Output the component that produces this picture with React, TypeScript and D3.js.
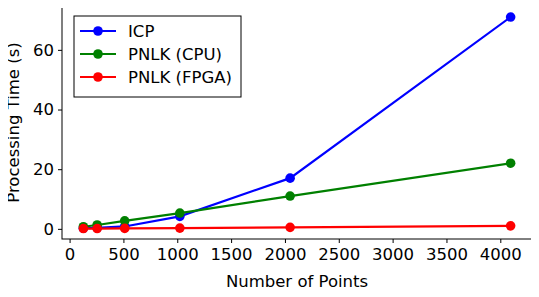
import React, { useEffect, useRef } from "react";
import * as d3 from "d3";

const points = [128, 256, 512, 1024, 2048, 4096];
const icp = [0.2, 0.3, 0.8, 4.2, 17, 71];
const pnlkCpu = [0.7, 1.3, 2.7, 5.3, 11, 22];
const pnlkFpga = [0.1, 0.1, 0.15, 0.25, 0.5, 1.0];
const seriesNames = ["ICP", "PNLK (CPU)", "PNLK (FPGA)"];
const seriesColors = ["#0000ff", "#008000", "#ff0000"];
const xTicks = [0, 500, 1000, 1500, 2000, 2500, 3000, 3500, 4000];
const yTicks = [0, 20, 40, 60];

const App = () => {
  const svgRef = useRef<SVGSVGElement>(null);

  useEffect(() => {
    const svg = d3.select(svgRef.current);
    svg.selectAll("*").remove();

    const left = 62, right = 532, top = 6, bottom = 239;
    const font = "DejaVu Sans, sans-serif";
    const fs = 16.5;

    const x = d3.scaleLinear().domain([-70.4, 4294.4]).range([left, right]);
    const y = d3.scaleLinear().domain([-3.4, 74.7]).range([bottom, top]);

    const xAxis = svg
      .append("g")
      .attr("transform", `translate(0,${bottom})`)
      .call(
        d3.axisBottom(x).tickValues(xTicks).tickFormat(d3.format("d")).tickSize(4).tickPadding(5).tickSizeOuter(0)
      );
    const yAxis = svg
      .append("g")
      .attr("transform", `translate(${left},0)`)
      .call(
        d3.axisLeft(y).tickValues(yTicks).tickFormat(d3.format("d")).tickSize(4).tickPadding(4).tickSizeOuter(0)
      );

    [xAxis, yAxis].forEach((g) => {
      g.select(".domain").remove();
      g.selectAll("text").attr("font-family", font).attr("font-size", fs).attr("fill", "#000");
      g.selectAll("line").attr("stroke", "#000").attr("stroke-width", 1);
    });

    svg
      .append("rect")
      .attr("x", left)
      .attr("y", top)
      .attr("width", right - left)
      .attr("height", bottom - top)
      .attr("fill", "none")
      .attr("stroke", "#000")
      .attr("stroke-width", 1);

    const allSeries = [icp, pnlkCpu, pnlkFpga];
    const line = d3
      .line<number>()
      .x((_, i) => x(points[i]))
      .y((d) => y(d));

    allSeries.forEach((vals, si) => {
      svg
        .append("path")
        .datum(vals)
        .attr("fill", "none")
        .attr("stroke", seriesColors[si])
        .attr("stroke-width", 2.2)
        .attr("d", line);
      svg
        .append("g")
        .selectAll("circle")
        .data(vals)
        .join("circle")
        .attr("cx", (_, i) => x(points[i]))
        .attr("cy", (d) => y(d))
        .attr("r", 4.8)
        .attr("fill", seriesColors[si]);
    });

    // axis labels
    svg
      .append("text")
      .attr("x", (left + right) / 2)
      .attr("y", 287)
      .attr("text-anchor", "middle")
      .attr("font-family", font)
      .attr("font-size", fs)
      .text("Number of Points");
    svg
      .append("text")
      .attr("transform", `translate(19,${(top + bottom) / 2}) rotate(-90)`)
      .attr("text-anchor", "middle")
      .attr("font-family", font)
      .attr("font-size", fs)
      .text("Processing Time (s)");

    // legend
    const legend = svg.append("g").attr("transform", "translate(74,16)");
    legend
      .append("rect")
      .attr("width", 167)
      .attr("height", 81)
      .attr("fill", "#fff")
      .attr("stroke", "#000")
      .attr("stroke-width", 1);
    seriesNames.forEach((name, i) => {
      const cy = 15 + i * 23;
      legend
        .append("line")
        .attr("x1", 6)
        .attr("x2", 42)
        .attr("y1", cy)
        .attr("y2", cy)
        .attr("stroke", seriesColors[i])
        .attr("stroke-width", 2.2);
      legend.append("circle").attr("cx", 24).attr("cy", cy).attr("r", 4.8).attr("fill", seriesColors[i]);
      legend
        .append("text")
        .attr("x", 54)
        .attr("y", cy)
        .attr("dy", "0.35em")
        .attr("font-family", font)
        .attr("font-size", fs)
        .text(name);
    });
  }, []);

  return (
    <div style={{ margin: -8 }}>
      <svg ref={svgRef} width={539} height={297} style={{ display: "block" }}></svg>
    </div>
  );
};

export default App;
